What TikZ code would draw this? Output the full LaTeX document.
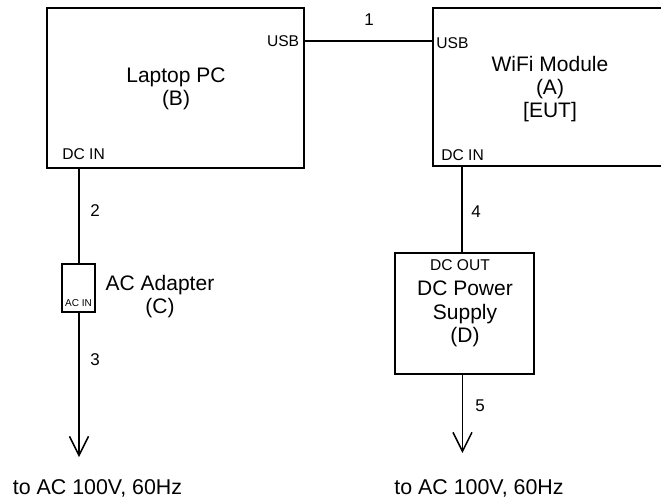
\documentclass[tikz,border=0pt]{standalone}
\usepackage{fontspec}
\setmainfont{Liberation Sans}
\usetikzlibrary{arrows.meta}
\begin{document}
\begin{tikzpicture}[x=0.5pt,y=-0.5pt,
  box/.style={draw,line width=0.75pt,inner sep=0pt,minimum width=#1},
  wire/.style={line width=0.75pt},
  tiparrow/.style={wire,-{Straight Barb[length=9.5pt,width=9.5pt,line width=0.75pt]}},
  mainlbl/.style={font=\fontsize{10.5}{11.6}\selectfont,align=center,inner sep=0pt},
  portlbl/.style={font=\fontsize{7.8}{9}\selectfont,inner sep=0pt},
  numlbl/.style={font=\fontsize{8.5}{10}\selectfont,inner sep=0pt},
  tinylbl/.style={font=\fontsize{5}{6}\selectfont,inner sep=0pt},
  destlbl/.style={font=\fontsize{10.7}{12}\selectfont,inner sep=0pt}]
\useasboundingbox (0,0) rectangle (661,504);
\clip (0,0) rectangle (661,504);
% boxes
\node[box=128.5pt,minimum height=80pt] (laptop) at (175.5,88) {};
\node[box=143.5pt,minimum height=79pt] (wifi) at (576.5,87) {};
\node[box=16.5pt,minimum height=24pt] (acad) at (78.5,288) {};
\node[box=69.5pt,minimum height=60.5pt] (dcps) at (464.5,313.5) {};
% box texts
\node[mainlbl] (laptopT) at (176,89) {Laptop PC\\(B)};
\node[mainlbl] (wifiT) at (550,89) {WiFi Module\\(A)\\{}[EUT]};
\node[mainlbl] (acadT) at (160,296.5) {AC Adapter\\(C)};
\node[mainlbl] (dcpsT) at (465,314) {DC Power\\Supply\\(D)};
% port labels
\node[portlbl,anchor=east] (usbL) at (299.5,41) {USB};
\node[portlbl,anchor=west] (usbR) at (436,43.5) {USB};
\node[portlbl,anchor=west] (dcinL) at (62,154.5) {DC IN};
\node[portlbl,anchor=west] (dcinR) at (441,155.5) {DC IN};
\node[portlbl] (dcout) at (460,265) {DC OUT};
\node[tinylbl] (acin) at (78.5,303) {AC IN};
% connectors
\coordinate (endC) at (79,457);
\coordinate (endD) at (462.5,453);
\draw[wire] (laptop.east |- 0,41) -- (wifi.west |- 0,41);
\draw[wire] (laptop.south -| 79,0) -- (acad.north -| 79,0);
\draw[tiparrow] (acad.south -| 79,0) -- (endC);
\draw[wire] (wifi.south -| 462,0) -- (dcps.north -| 462,0);
\draw[tiparrow] (dcps.south -| 462.5,0) -- (endD);
% cable numbers
\node[numlbl] (n1) at (369,20) {1};
\node[numlbl] (n2) at (95,211) {2};
\node[numlbl] (n3) at (95,360) {3};
\node[numlbl] (n4) at (476,212) {4};
\node[numlbl] (n5) at (480,406) {5};
% destinations
\node[destlbl] (toC) at (97.5,488) {to AC 100V, 60Hz};
\node[destlbl] (toD) at (479,488) {to AC 100V, 60Hz};
\end{tikzpicture}
\end{document}
